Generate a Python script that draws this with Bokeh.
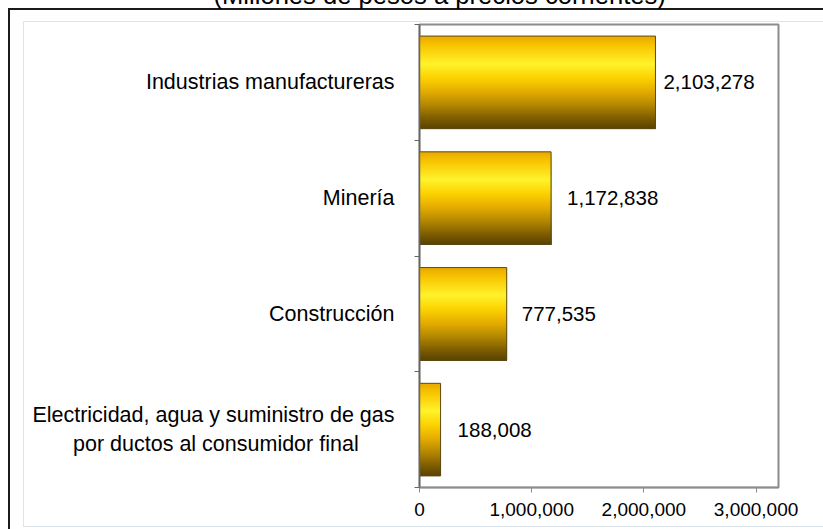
import numpy as np
from bokeh.plotting import figure
from bokeh.models import (FixedTicker, NumeralTickFormatter, Range1d, ColumnDataSource)
from bokeh.embed import file_html
from bokeh.resources import INLINE
from bokeh.core.properties import value

# ---- data ----
categories = ["Electricidad, agua y suministro de gas\npor ductos al consumidor final" + "\u00a0" * 6,
              "Construcción", "Minería", "Industrias manufactureras"]
values = [188008, 777535, 1172838, 2103278]
value_labels = ["188,008", "777,535", "1,172,838", "2,103,278"]
x_ticks = [0, 1000000, 2000000, 3000000]
title_text = "(Millones de pesos a precios corrientes)"

# ---- style ----
FONT = "Liberation Sans"
label_dx = [17, 15, 16, 8]
bar_h = 0.8
N = 90
SHIFT = 50  # canvas starts this far above the window (title is cut off at the top)
stops = [(0.0, "#e8a800"), (0.1, "#f8c400"), (0.3, "#fff22c"), (0.45, "#fcd200"),
         (0.6, "#e4ac00"), (0.75, "#b28600"), (0.9, "#7a5a00"), (1.0, "#5a4300")]

def hex2rgb(h):
    h = h.lstrip("#")
    return np.array([int(h[i:i + 2], 16) for i in (0, 2, 4)], dtype=float)

def grad(t):
    for (t0, c0), (t1, c1) in zip(stops[:-1], stops[1:]):
        if t0 <= t <= t1:
            f = (t - t0) / (t1 - t0)
            c = hex2rgb(c0) * (1 - f) + hex2rgb(c1) * f
            return "#%02x%02x%02x" % tuple(int(round(v)) for v in c)
    return stops[-1][1]

centers = [i + 0.5 for i in range(len(categories))]

# decorative frame lines drawn as CSS backgrounds behind the transparent canvas border
bg_img = ", ".join(["linear-gradient(#1a1a1a, #1a1a1a)"] * 2 + ["linear-gradient(#dce4ec, #dce4ec)"] * 3)
bg_pos = (f"8px {8 + SHIFT}px, 8px {8 + SHIFT}px, 23px {21 + SHIFT}px, "
          f"23px {21 + SHIFT}px, 23px {526 + SHIFT}px")
bg_size = "815px 2px, 2px 521px, 800px 1px, 1px 506px, 800px 1px"

p = figure(width=823, height=529 + SHIFT, output_backend="svg", toolbar_location=None,
           x_range=Range1d(0, 3200000), y_range=Range1d(0, 4),
           min_border_left=419, min_border_right=45, min_border_top=24 + SHIFT,
           min_border_bottom=42,
           styles={"margin-top": f"-{SHIFT}px", "background-color": "white",
                   "background-image": bg_img, "background-position": bg_pos,
                   "background-size": bg_size, "background-repeat": "no-repeat"})
p.background_fill_color = "white"
p.border_fill_color = None
p.border_fill_alpha = 0
p.outline_line_color = "#8c8c8c"
p.outline_line_width = 2
p.xgrid.visible = False
p.ygrid.visible = False

p.title.text = title_text
p.title.align = "left"
p.title.offset = -206
p.title.standoff = 32
p.title.vertical_align = "bottom"
p.title.text_font = FONT
p.title.text_font_size = "25.6px"
p.title.text_font_style = "normal"
p.title.text_color = "black"

# gradient bars: each strip spans from its top to the bar bottom, drawn top-first (no seams)
L, R, T, B, C = [], [], [], [], []
for c, v in zip(centers, values):
    for k in range(N):
        t = (k + 0.5) / N
        L.append(0)
        R.append(v)
        T.append(c + bar_h / 2 - k * bar_h / N)
        B.append(c - bar_h / 2)
        C.append(grad(t))
src = ColumnDataSource(dict(left=L, right=R, top=T, bottom=B, color=C))
p.quad(left="left", right="right", top="top", bottom="bottom", fill_color="color",
       line_color=None, source=src)
p.hbar(y=centers, right=values, left=0, height=bar_h, fill_color=None,
       line_color="#5a4a1a", line_width=1)

# value labels
p.text(x=values, y=centers, text=value_labels, x_offset=label_dx, text_baseline="middle",
       text_align="left", text_font=value(FONT), text_font_size="20.5px", text_color="black")

# axes
xa = p.xaxis[0]
xa.ticker = FixedTicker(ticks=x_ticks)
xa.formatter = NumeralTickFormatter(format="0,0")
xa.axis_line_color = "#8c8c8c"
xa.axis_line_width = 1.5
xa.major_tick_line_color = "#8c8c8c"
xa.major_tick_out = 5
xa.major_tick_in = 0
xa.minor_tick_line_color = None
xa.major_label_text_font = FONT
xa.major_label_text_font_size = "19px"
xa.major_label_text_color = "black"
xa.major_label_standoff = 10

ya = p.yaxis[0]
ya.ticker = FixedTicker(ticks=centers, minor_ticks=[0, 1, 2, 3, 4])
ya.major_label_overrides = {c: lab for c, lab in zip(centers, categories)}
ya.axis_line_color = "#666666"
ya.axis_line_width = 1.5
ya.major_tick_line_color = None
ya.major_tick_out = 0
ya.major_tick_in = 0
ya.minor_tick_line_color = "#666666"
ya.minor_tick_out = 5
ya.minor_tick_in = 0
ya.major_label_text_font = FONT
ya.major_label_text_font_size = "21.5px"
ya.major_label_text_color = "black"
ya.major_label_standoff = 20

open("out.html", "w").write(file_html(p, INLINE))
